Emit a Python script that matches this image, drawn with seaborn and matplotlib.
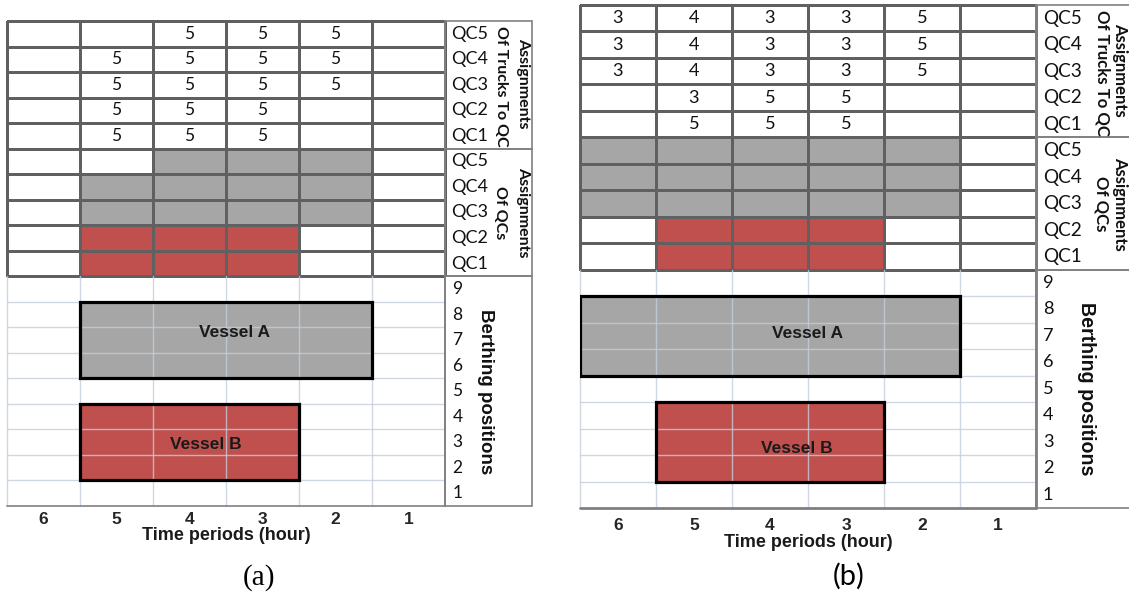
import numpy as np
import pandas as pd
import matplotlib
matplotlib.use("Agg")
import matplotlib.pyplot as plt
from matplotlib.colors import ListedColormap
from matplotlib.patches import Rectangle
import seaborn as sns

sns.set_theme(style="white")
plt.rcParams["font.family"] = ["Lato", "DejaVu Sans"]

# ---- data ----
periods = [6, 5, 4, 3, 2, 1]
qc_names = ["QC5", "QC4", "QC3", "QC2", "QC1"]
berths = [9, 8, 7, 6, 5, 4, 3, 2, 1]

# trucks assigned to each QC per period (0 = none)
trucks_a = [
    [0, 0, 5, 5, 5, 0],
    [0, 5, 5, 5, 5, 0],
    [0, 5, 5, 5, 5, 0],
    [0, 5, 5, 5, 0, 0],
    [0, 5, 5, 5, 0, 0],
]
trucks_b = [
    [3, 4, 3, 3, 5, 0],
    [3, 4, 3, 3, 5, 0],
    [3, 4, 3, 3, 5, 0],
    [0, 3, 5, 5, 0, 0],
    [0, 5, 5, 5, 0, 0],
]
# QC assignment per period: 0 idle, 1 Vessel A, 2 Vessel B
qcs_a = [
    [0, 0, 1, 1, 1, 0],
    [0, 1, 1, 1, 1, 0],
    [0, 1, 1, 1, 1, 0],
    [0, 2, 2, 2, 0, 0],
    [0, 2, 2, 2, 0, 0],
]
qcs_b = [
    [1, 1, 1, 1, 1, 0],
    [1, 1, 1, 1, 1, 0],
    [1, 1, 1, 1, 1, 0],
    [0, 2, 2, 2, 0, 0],
    [0, 2, 2, 2, 0, 0],
]
# vessel: name, first period, last period, lowest berth, highest berth
vessels_a = [("Vessel A", 5, 2, 6, 8), ("Vessel B", 5, 3, 2, 4)]
vessels_b = [("Vessel A", 6, 2, 6, 8), ("Vessel B", 5, 3, 2, 4)]

GRAY = "#a6a6a6"
RED = "#c0504d"
DARK_LINE = "#606060"
LIGHT_LINE = "#c3cedc"
BOX_LINE = "#808080"
ARIAL = ["Liberation Sans", "DejaVu Sans"]

FIG_W, FIG_H = 1129, 594
fig = plt.figure(figsize=(FIG_W / 100, FIG_H / 100), dpi=100)


def axes_rect(left, right, top, bottom):
    return [left / FIG_W, 1 - bottom / FIG_H, (right - left) / FIG_W, (bottom - top) / FIG_H]


def draw_panel(ax, trucks, qcs, vessels, lay):
    s = lay["scale"]
    n_cols = len(periods)
    top_vals = np.vstack([np.zeros((len(qc_names), n_cols)), np.array(qcs)])
    annot = [[str(v) if v else "" for v in row] for row in trucks] + [[""] * n_cols for _ in qcs]
    df = pd.DataFrame(top_vals, columns=periods)
    cmap = ListedColormap(["white", GRAY, RED])
    sns.heatmap(df, ax=ax, cmap=cmap, vmin=-0.5, vmax=2.5, cbar=False,
                annot=np.array(annot), fmt="", linewidths=0.8, linecolor=DARK_LINE,
                annot_kws={"color": "#111111", "fontsize": 12.5 * s})
    ax.collections[0].set_clip_on(False)

    n_top = 2 * len(qc_names)
    n_rows = n_top + len(berths)
    ax.set_xlim(0, n_cols)
    ax.set_ylim(n_rows, 0)

    # berth section
    for name, p0, p1, b0, b1 in vessels:
        left = periods.index(p0)
        width = periods.index(p1) - left + 1
        top = n_top + berths.index(b1)
        height = berths.index(b0) - berths.index(b1) + 1
        color = GRAY if name.endswith("A") else RED
        ax.bar(left, height, width=width, bottom=top, align="edge", color=color,
               edgecolor="none", zorder=1)
        ax.add_patch(Rectangle((left, top), width, height, fill=False,
                               edgecolor="black", linewidth=2.3, zorder=4))
        dx, dy = lay["vessel_off"][name]
        ax.text(left + width / 2 + dx, top + height / 2 + dy, name, ha="center",
                va="center", fontsize=12.5, fontweight="bold", family=ARIAL,
                color="#1a1a1a", zorder=5)
    for y in range(n_top + 1, n_rows):
        ax.plot([0, n_cols], [y, y], color=LIGHT_LINE, lw=1, alpha=0.8, zorder=2)
    for x in range(0, n_cols):
        ax.plot([x, x], [n_top, n_rows], color=LIGHT_LINE, lw=1, alpha=0.8, zorder=2,
                clip_on=False)
    ax.plot([0, n_cols], [n_rows, n_rows], color=BOX_LINE, lw=lay["edge_lw"], zorder=3,
            clip_on=False)

    # right-hand label boxes
    bw = lay["box_w"]
    sections = [(0, len(qc_names)), (len(qc_names), n_top), (n_top, n_rows)]
    for y0, y1 in sections:
        ax.add_patch(Rectangle((n_cols, y0), bw, y1 - y0, fill=False, edgecolor=BOX_LINE,
                               linewidth=1.2, clip_on=False, zorder=3))
    ax.plot([n_cols, n_cols], [0, n_rows], color=BOX_LINE, lw=lay["edge_lw"],
            clip_on=False, zorder=3)
    for i, q in enumerate(qc_names):
        for base in (0, len(qc_names)):
            ax.text(n_cols + lay["qc_x"], base + i + 0.5, q, ha="left", va="center",
                    fontsize=13 * s, color="#111111", clip_on=False)
    for i, b in enumerate(berths):
        ax.text(n_cols + lay["num_x"], n_top + i + 0.5, str(b), ha="center",
                va="center", fontsize=12.5 * s, color="#111111", clip_on=False)
    kw = dict(rotation=-90, ha="center", va="center", fontweight="bold", clip_on=False,
              color="#111111")
    ax.text(n_cols + lay["as_x"], 2.45, "Assignments", fontsize=lay["as_fs"], **kw)
    ax.text(n_cols + lay["of_x"], 2.55, "Of Trucks To QC", fontsize=11.5 * s, **kw)
    ax.text(n_cols + lay["asqc_x"], 7.5, "Assignments", fontsize=lay["as_fs"], **kw)
    ax.text(n_cols + lay["ofqc_x"], 7.5, "Of QCs", fontsize=11.5 * s, **kw)
    ax.text(n_cols + lay["berth_x"], n_top + len(berths) / 2, "Berthing positions",
            fontsize=13.5 * s, family=ARIAL, **kw)

    # axis
    for sp in ax.spines.values():
        sp.set_visible(False)
    ax.set_yticks([])
    ax.set_xticks(np.arange(n_cols) + 0.5)
    ax.set_xticklabels([str(p) for p in periods], fontsize=12.5, fontweight="bold",
                       family=ARIAL, color="#262626")
    ax.tick_params(axis="x", length=0, pad=lay["tick_pad"])
    ax.set_xlabel("Time periods (hour)", fontsize=13, fontweight="bold", family=ARIAL,
                  color="#1a1a1a", labelpad=lay["label_pad"])


layout_a = dict(rect=(7, 445, 21, 506), scale=1.0, box_w=1.19, qc_x=0.08, num_x=0.17,
                of_x=0.77, as_x=1.07, ofqc_x=0.75, asqc_x=1.07, berth_x=0.55,
                as_fs=11.5, edge_lw=1.2, tick_pad=4, label_pad=0,
                vessel_off={"Vessel A": (0.12, -0.3), "Vessel B": (0.22, 0.1)})
layout_b = dict(rect=(580, 1036, 5, 508), scale=1.05, box_w=1.5, qc_x=0.09, num_x=0.16,
                of_x=0.88, as_x=1.11, ofqc_x=0.86, asqc_x=1.11, berth_x=0.67,
                as_fs=12, edge_lw=2.0, tick_pad=7, label_pad=1,
                vessel_off={"Vessel A": (0.5, -0.1), "Vessel B": (0.35, 0.25)})

for trucks, qcs, vessels, lay in [(trucks_a, qcs_a, vessels_a, layout_a),
                                  (trucks_b, qcs_b, vessels_b, layout_b)]:
    ax = fig.add_axes(axes_rect(*lay["rect"]))
    draw_panel(ax, trucks, qcs, vessels, lay)

fig.text(259 / FIG_W, 1 - 578 / FIG_H, "(a)", ha="center", va="center", fontsize=21,
         family=["Liberation Serif", "DejaVu Serif"], color="black")
fig.text(849 / FIG_W, 1 - 576 / FIG_H, "(b)", ha="center", va="center", fontsize=21,
         color="black")

fig.savefig("out.png", dpi=100)
plt.close(fig)
